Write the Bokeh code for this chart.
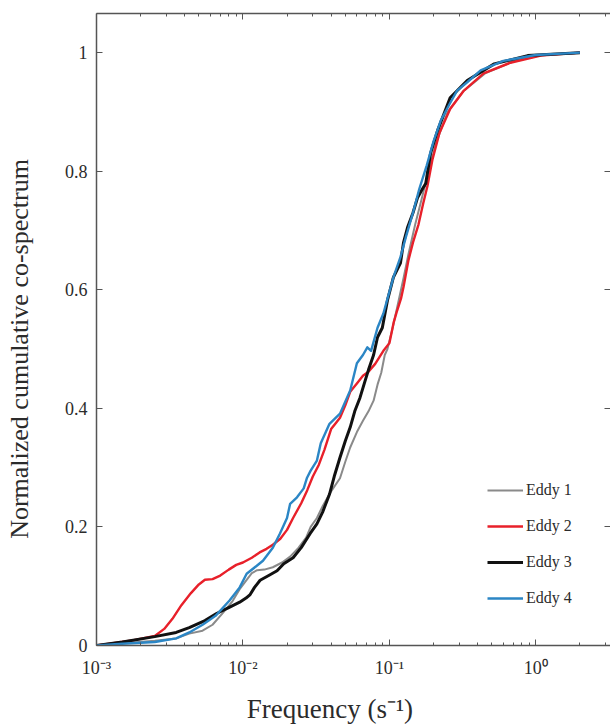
from bokeh.plotting import figure
from bokeh.models import (Range1d, FixedTicker, CustomJSTickFormatter, LogAxis, LinearAxis,
                          Legend, LegendItem)
from bokeh.embed import file_html
from bokeh.resources import INLINE

# ---------------- data ----------------
eddy1_f = [0.001, 0.0015, 0.0025, 0.0035, 0.0043, 0.0053, 0.0062, 0.0073, 0.0085, 0.0095,
           0.0107, 0.0115, 0.0125, 0.014, 0.016, 0.0185, 0.021, 0.024, 0.027, 0.029,
           0.032, 0.035, 0.04, 0.046, 0.05, 0.054, 0.06, 0.066, 0.072, 0.078,
           0.083, 0.088, 0.093, 0.097, 0.104, 0.113, 0.125, 0.135, 0.15, 0.165,
           0.185, 0.21, 0.25, 0.32, 0.45, 0.7, 1.1, 2.0]
eddy1_c = [0.0, 0.004, 0.008, 0.012, 0.02, 0.025, 0.035, 0.055, 0.075, 0.095,
           0.112, 0.122, 0.127, 0.128, 0.132, 0.14, 0.15, 0.165, 0.182, 0.2,
           0.215, 0.235, 0.26, 0.282, 0.31, 0.334, 0.36, 0.379, 0.395, 0.413,
           0.44, 0.46, 0.49, 0.5, 0.53, 0.57, 0.62, 0.66, 0.71, 0.75,
           0.8, 0.85, 0.9, 0.935, 0.965, 0.985, 0.996, 1.0]

eddy2_f = [0.001, 0.0013, 0.0018, 0.0025, 0.0029, 0.0033, 0.0038, 0.0044, 0.005, 0.0055,
           0.0062, 0.007, 0.008, 0.009, 0.01, 0.0115, 0.013, 0.0145, 0.016, 0.018,
           0.02, 0.022, 0.025, 0.0275, 0.03, 0.033, 0.036, 0.04, 0.043, 0.046,
           0.05, 0.054, 0.06, 0.066, 0.072, 0.08, 0.091, 0.1, 0.107, 0.113,
           0.12, 0.125, 0.135, 0.145, 0.158, 0.17, 0.182, 0.197, 0.22, 0.26,
           0.32, 0.44, 0.67, 1.08, 2.0]
eddy2_c = [0.0, 0.004, 0.009, 0.016, 0.028, 0.045, 0.068, 0.088, 0.103, 0.111,
           0.112, 0.118, 0.128, 0.136, 0.14, 0.148, 0.157, 0.163, 0.17, 0.18,
           0.195, 0.215, 0.24, 0.262, 0.285, 0.305, 0.33, 0.365, 0.375, 0.384,
           0.405, 0.428, 0.442, 0.455, 0.462, 0.475, 0.497, 0.51, 0.545, 0.565,
           0.585, 0.605, 0.65, 0.68, 0.71, 0.745, 0.775, 0.82, 0.865, 0.905,
           0.935, 0.965, 0.983, 0.995, 1.0]

eddy3_f = [0.001, 0.0015, 0.0025, 0.0035, 0.0043, 0.0055, 0.0066, 0.008, 0.0095, 0.0105,
           0.0112, 0.012, 0.0131, 0.015, 0.0171, 0.019, 0.022, 0.025, 0.0288, 0.032,
           0.035, 0.039, 0.042, 0.046, 0.05, 0.054, 0.058, 0.063, 0.068, 0.072,
           0.078, 0.083, 0.0895, 0.097, 0.1065, 0.119, 0.125, 0.133, 0.145, 0.1556,
           0.168, 0.177, 0.191, 0.213, 0.26, 0.34, 0.52, 0.88, 2.0]
eddy3_c = [0.0, 0.006, 0.015, 0.022, 0.03, 0.042, 0.054, 0.064, 0.073, 0.08,
           0.086, 0.098, 0.11, 0.118, 0.126, 0.138, 0.148, 0.165, 0.189, 0.205,
           0.225, 0.255, 0.285, 0.317, 0.345, 0.368, 0.395, 0.418, 0.445, 0.465,
           0.49, 0.52, 0.536, 0.582, 0.621, 0.645, 0.68, 0.705, 0.73, 0.755,
           0.77, 0.779, 0.83, 0.868, 0.924, 0.953, 0.981, 0.995, 1.0]

eddy4_f = [0.001, 0.0015, 0.0025, 0.0035, 0.0043, 0.0053, 0.0065, 0.0081, 0.0095, 0.0106,
           0.0125, 0.0137, 0.016, 0.0179, 0.02, 0.021, 0.0234, 0.026, 0.0274, 0.029,
           0.032, 0.034, 0.039, 0.046, 0.054, 0.06, 0.066, 0.0707, 0.075, 0.083,
           0.091, 0.1065, 0.119, 0.13, 0.145, 0.16, 0.18, 0.2, 0.224, 0.26,
           0.29, 0.34, 0.42, 0.6, 1.0, 2.0]
eddy4_c = [0.0, 0.003, 0.006, 0.012, 0.022, 0.035, 0.05, 0.076, 0.098, 0.121,
           0.135, 0.143, 0.165, 0.189, 0.215, 0.239, 0.25, 0.265, 0.283, 0.295,
           0.312, 0.341, 0.374, 0.391, 0.43, 0.476, 0.49, 0.503, 0.497, 0.536,
           0.56, 0.621, 0.655, 0.69, 0.73, 0.77, 0.81, 0.85, 0.885, 0.915,
           0.936, 0.95, 0.97, 0.986, 0.996, 1.0]

labels = ["Eddy 1", "Eddy 2", "Eddy 3", "Eddy 4"]
x_ticks = [0.001, 0.01, 0.1, 1.0]
y_ticks = [0, 0.2, 0.4, 0.6, 0.8, 1.0]
x_title = "Frequency (s\u207b\u00b9)"
y_title = "Normalized cumulative co-spectrum"

# ---------------- styling ----------------
FONT = "'Liberation Serif'"
TXT = "#2b2b2b"
AX = "#555555"
colors = ["#8a8a8a", "#e8202a", "#111111", "#2b86c5"]
widths = [2.0, 2.4, 3.0, 2.4]
NB = "\u00a0"

minor = [m * 10.0 ** k for k in range(-3, 1) for m in range(2, 10)]

p = figure(width=610, height=726, x_axis_type="log",
           x_range=Range1d(1e-3, 10 ** 0.51), y_range=Range1d(0, 1.066),
           output_backend="svg", toolbar_location=None,
           min_border_left=96, min_border_right=0, min_border_top=13, min_border_bottom=81)
p.outline_line_color = None
p.grid.visible = False
p.background_fill_color = "white"
p.border_fill_color = "white"

xfmt = CustomJSTickFormatter(code="""
const e = Math.round(Math.log10(tick));
const sup = {'-':'\u207b','0':'\u2070','1':'\u00b9','2':'\u00b2','3':'\u00b3'};
return '10' + String(e).split('').map(c => sup[c]).join('');
""")
yfmt = CustomJSTickFormatter(code="return String(Math.round(tick*10)/10);")
blank = CustomJSTickFormatter(code="return '';")

xa = p.xaxis[0]
xa.ticker = FixedTicker(ticks=x_ticks, minor_ticks=minor)
xa.formatter = xfmt
ya = p.yaxis[0]
ya.ticker = FixedTicker(ticks=y_ticks)
ya.formatter = yfmt

for ax in (xa, ya):
    ax.axis_line_color = AX
    ax.axis_line_width = 1.5
    ax.major_tick_line_color = AX
    ax.minor_tick_line_color = AX
    ax.major_tick_in = 6
    ax.major_tick_out = 0
    ax.minor_tick_in = 3
    ax.minor_tick_out = 0
    ax.major_label_text_font = FONT
    ax.major_label_text_font_size = "18px"
    ax.major_label_text_color = TXT
    ax.axis_label_text_font = FONT
    ax.axis_label_text_font_style = "normal"
    ax.axis_label_text_color = TXT
ya.minor_tick_line_color = None
xa.major_label_standoff = 12
ya.major_label_standoff = 9

# axis titles; trailing no-break spaces shift the centred title like the reference
xa.axis_label = x_title + NB * 7
xa.axis_label_text_font_size = "27px"
xa.axis_label_standoff = 13
ya.axis_label = y_title + NB * 6
ya.axis_label_text_font_size = "26px"
ya.axis_label_standoff = 28

top = LogAxis(ticker=FixedTicker(ticks=x_ticks, minor_ticks=minor), formatter=blank,
              major_label_text_font_size="1px", major_label_standoff=0,
              major_tick_in=6, major_tick_out=0, minor_tick_in=3, minor_tick_out=0,
              axis_line_color=AX, axis_line_width=1.5,
              major_tick_line_color=AX, minor_tick_line_color=AX)
p.add_layout(top, "above")
right = LinearAxis(ticker=FixedTicker(ticks=y_ticks), formatter=blank,
                   major_label_text_font_size="1px", major_label_standoff=0,
                   major_tick_in=6, major_tick_out=0, minor_tick_line_color=None,
                   axis_line_color=None, major_tick_line_color=AX)
p.add_layout(right, "right")

series = [(eddy1_f, eddy1_c), (eddy2_f, eddy2_c), (eddy3_f, eddy3_c), (eddy4_f, eddy4_c)]
items = []
for (f, c), lab, col, w in zip(series, labels, colors, widths):
    r = p.line(f, c, line_color=col, line_width=w, line_join="round")
    items.append(LegendItem(label=lab, renderers=[r]))

legend = Legend(items=items, location=(391, 37), border_line_color=None,
                background_fill_alpha=0.0, padding=0, margin=0, spacing=16,
                glyph_width=36, glyph_height=20, label_height=20, label_standoff=3,
                label_text_font=FONT, label_text_font_size="16px", label_text_color=TXT)
p.add_layout(legend)

open("out.html", "w").write(file_html(p, INLINE))
